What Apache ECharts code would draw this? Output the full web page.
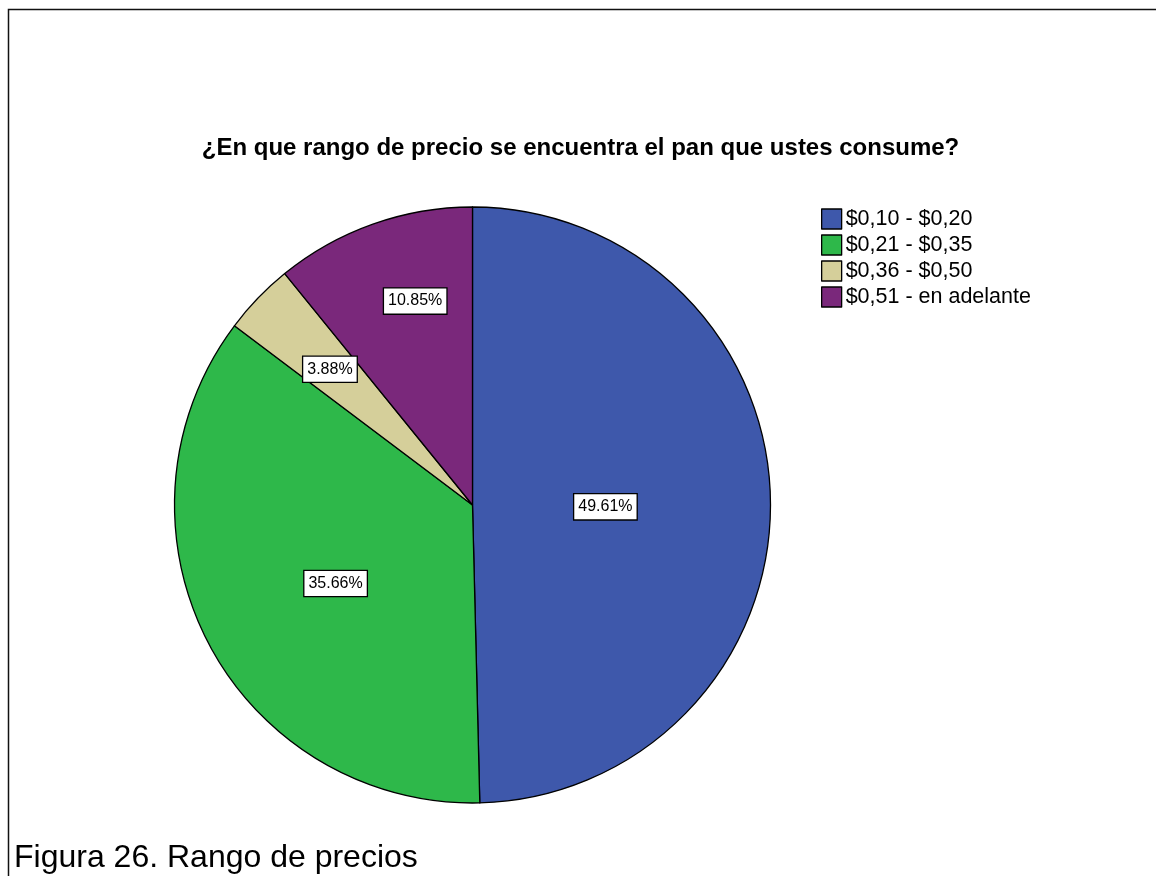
<!DOCTYPE html>
<html>
<head>
<meta charset="utf-8">
<title>Rango de precios</title>
<script src="https://cdn.jsdelivr.net/npm/echarts@6/dist/echarts.min.js"></script>
<style>
  html, body { margin: 0; padding: 0; background: #ffffff; }
  #chart { width: 1156px; height: 876px; }
</style>
</head>
<body>
<div id="chart"></div>
<script>
// Price ranges and the share (%) of respondents in each
const categories = ['$0,10 - $0,20', '$0,21 - $0,35', '$0,36 - $0,50', '$0,51 - en adelante'];
const percentages = [49.61, 35.66, 3.88, 10.85];
const sliceColors = ['#3e58ab', '#2eb84a', '#d5cf9a', '#7a287b'];
// Where each value box sits inside its slice:
// distance from the centre (fraction of radius) and position across the slice's angle (0..1)
const labelRadius = [0.446, 0.528, 0.663, 0.714];
const labelAngleShare = [0.506, 0.482, 0.49, 0.60];

const chartTitle = '¿En que rango de precio se encuentra el pan que ustes consume?';
const caption = 'Figura 26. Rango de precios';

const FONT = '"Liberation Sans", Arial, Helvetica, sans-serif';
const CENTER = [472.5, 505];
const RADIUS = 298;

// angle (degrees clockwise from 12 o'clock) at which each slice starts
const total = percentages.reduce((a, b) => a + b, 0);
const sliceStart = [];
percentages.reduce((acc, v, i) => { sliceStart[i] = acc / total * 360; return acc + v; }, 0);

const chart = echarts.init(document.getElementById('chart'), null, { renderer: 'canvas' });

chart.setOption({
  backgroundColor: '#ffffff',
  animation: false,
  title: [
    {
      text: chartTitle,
      left: 580.5,
      top: 136,
      textAlign: 'center',
      padding: 0,
      textStyle: { fontFamily: FONT, fontSize: 24, fontWeight: 'bold', color: '#000000' }
    },
    {
      text: caption,
      left: 14,
      top: 842,
      padding: 0,
      textStyle: { fontFamily: FONT, fontSize: 32, fontWeight: 'normal', color: '#000000' }
    }
  ],
  legend: {
    orient: 'vertical',
    left: 821,
    top: 208,
    padding: 0,
    itemWidth: 20,
    itemHeight: 20,
    itemGap: 4,
    icon: 'rect',
    selectedMode: false,
    data: categories,
    itemStyle: { borderColor: '#000000', borderWidth: 1.3 },
    textStyle: { fontFamily: FONT, fontSize: 21.5, color: '#000000', lineHeight: 20, padding: [0, 0, 0, -1] }
  },
  // thin frame along the top and left edges
  graphic: [
    {
      type: 'polyline',
      shape: { points: [[8.5, 876], [8.5, 9.5], [1156, 9.5]] },
      style: { stroke: '#111111', lineWidth: 1.5, fill: null },
      silent: true
    }
  ],
  series: [
    {
      type: 'pie',
      center: CENTER,
      radius: RADIUS,
      startAngle: 90,
      clockwise: true,
      avoidLabelOverlap: false,
      silent: true,
      data: categories.map((name, i) => ({
        name: name,
        value: percentages[i],
        itemStyle: { color: sliceColors[i] }
      })),
      itemStyle: { borderColor: '#000000', borderWidth: 1.3 },
      label: {
        show: true,
        position: 'inside',
        formatter: p => p.value.toFixed(2) + '%',
        fontFamily: FONT,
        fontSize: 16,
        color: '#000000',
        backgroundColor: '#ffffff',
        borderColor: '#000000',
        borderWidth: 1.3,
        padding: [4, 4, 3, 4],
        lineHeight: 18
      },
      labelLine: { show: false },
      // place each value box along its slice at the chosen radius / angle share
      labelLayout: function (params) {
        const i = params.dataIndex;
        const span = percentages[i] / total * 360;
        const a = (sliceStart[i] + span * labelAngleShare[i]) * Math.PI / 180;
        const d = labelRadius[i] * RADIUS;
        return {
          x: CENTER[0] + Math.sin(a) * d,
          y: CENTER[1] - Math.cos(a) * d + 1,
          align: 'center',
          verticalAlign: 'middle'
        };
      }
    }
  ]
});
</script>
</body>
</html>
